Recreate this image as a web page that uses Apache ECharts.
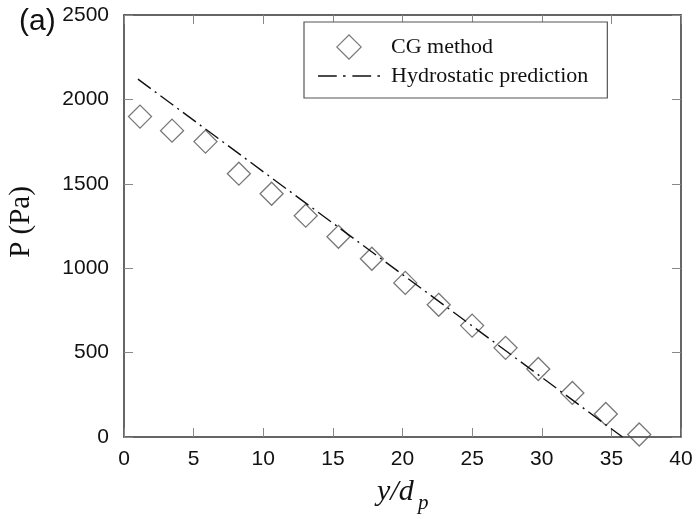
<!DOCTYPE html>
<html>
<head>
<meta charset="utf-8">
<script src="https://cdn.jsdelivr.net/npm/echarts@6/dist/echarts.min.js"></script>
<style>html,body{margin:0;padding:0;background:#fff}#c{width:698px;height:519px}</style>
</head>
<body>
<div id="c"></div>
<script>
// CG method data (y/d_p, P in Pa)
const cgX = [1.15, 3.45, 5.85, 8.25, 10.6, 13.05, 15.4, 17.8, 20.2, 22.6, 25.0, 27.4, 29.75, 32.2, 34.6, 37.0];
const cgP = [1898, 1815, 1750, 1560, 1441, 1311, 1186, 1056, 913, 783, 660, 528, 403, 261, 136, 15];
// Hydrostatic prediction (straight line end points)
const hydroX = [1.0, 35.8];
const hydroP = [2120, 0];
const xTicks = [0, 5, 10, 15, 20, 25, 30, 35, 40];
const yTicks = [0, 500, 1000, 1500, 2000, 2500];

const chart = echarts.init(document.getElementById('c'));
const sans = 'Liberation Sans, Arial, sans-serif';
const serif = 'Liberation Serif, Times New Roman, serif';
const axisLine = {show: true, onZero: false, lineStyle: {color: '#333', width: 1.5}};
const tick = {show: true, inside: true, length: 9, lineStyle: {color: '#888', width: 1}};
const plain = v => String(v);

chart.setOption({
  animation: false,
  backgroundColor: '#fff',
  grid: {left: 124, right: 17, top: 15, bottom: 82, containLabel: false, outerBoundsMode: 'none'},
  xAxis: [
    {type: 'value', min: xTicks[0], max: xTicks[xTicks.length - 1], interval: 5, position: 'bottom',
     axisLine: axisLine, axisTick: tick, splitLine: {show: false},
     axisLabel: {color: '#111', fontFamily: sans, fontSize: 21, margin: 12, formatter: plain}},
    {type: 'value', min: xTicks[0], max: xTicks[xTicks.length - 1], interval: 5, position: 'top',
     axisLine: axisLine, axisTick: tick, splitLine: {show: false}, axisLabel: {show: false}}
  ],
  yAxis: [
    {type: 'value', min: yTicks[0], max: yTicks[yTicks.length - 1], interval: 500, position: 'left',
     axisLine: axisLine, axisTick: tick, splitLine: {show: false},
     axisLabel: {color: '#111', fontFamily: sans, fontSize: 21, margin: 15, formatter: plain}},
    {type: 'value', min: yTicks[0], max: yTicks[yTicks.length - 1], interval: 500, position: 'right',
     axisLine: axisLine, axisTick: tick, splitLine: {show: false}, axisLabel: {show: false}}
  ],
  legend: {
    orient: 'vertical', left: 304, top: 22,
    padding: [12, 19, 11, 14], itemGap: 5, itemWidth: 62, itemHeight: 26,
    symbolKeepAspect: true,
    borderColor: '#555', borderWidth: 1.2, borderRadius: 0, backgroundColor: '#fff',
    textStyle: {fontFamily: serif, fontSize: 22, color: '#111', padding: [0, 0, 0, 6]},
    data: [
      {name: 'CG method',
       icon: 'path://M11,0 L22,11 L11,22 L0,11 Z M11,1.4 L1.4,11 L11,20.6 L20.6,11 Z',
       itemStyle: {color: '#555', borderWidth: 0}},
      {name: 'Hydrostatic prediction',
       icon: 'path://M0,0h18v1.5h-18z M24,0h2.5v1.5h-2.5z M33,0h18v1.5h-18z M57,0h2.5v1.5h-2.5z',
       itemStyle: {color: '#111', borderWidth: 0}}
    ]
  },
  series: [
    {name: 'Hydrostatic prediction', type: 'line', showSymbol: false, symbol: 'none',
     data: hydroX.map((x, i) => [x, hydroP[i]]),
     itemStyle: {color: '#111'},
     lineStyle: {color: '#111', width: 1.4, type: [16, 5, 2, 5]}, z: 3},
    {name: 'CG method', type: 'scatter', symbol: 'diamond', symbolSize: 23,
     data: cgX.map((x, i) => [x, cgP[i]]),
     itemStyle: {color: 'rgba(0,0,0,0)', borderColor: '#555', borderWidth: 1.3}, z: 2}
  ],
  graphic: [
    {type: 'text', left: 19, top: 7, style: {text: '(a)', fontFamily: sans, fontSize: 30, fill: '#111'}},
    {type: 'text', x: 21, y: 222, rotation: Math.PI / 2,
     style: {text: 'P (Pa)', fontFamily: serif, fontSize: 29, fill: '#111', align: 'center', verticalAlign: 'middle'}},
    {type: 'text', x: 377, y: 477, style: {text: 'y/d', fontFamily: serif, fontStyle: 'italic', fontSize: 30, fill: '#111'}},
    {type: 'text', x: 418, y: 493, style: {text: 'p', fontFamily: serif, fontStyle: 'italic', fontSize: 21, fill: '#111'}}
  ]
});
</script>
</body>
</html>
